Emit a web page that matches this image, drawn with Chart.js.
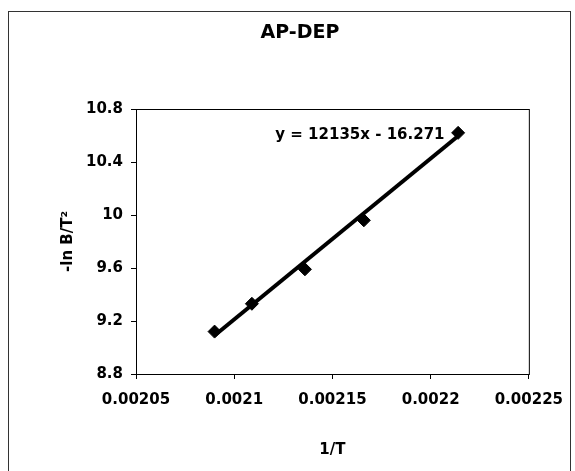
<!DOCTYPE html>
<html>
<head>
<meta charset="utf-8">
<script src="https://cdn.jsdelivr.net/npm/chart.js@4"></script>
<style>
  html, body { margin: 0; padding: 0; background: #fff; }
  #wrap { position: relative; width: 575px; height: 471px; }
  #frame { position: absolute; left: 8px; top: 11px; width: 563px; height: 470px;
           border: 1px solid #333; border-bottom: none; box-sizing: border-box; pointer-events: none; }
  canvas { position: absolute; left: 0; top: 0; }
</style>
</head>
<body>
<div id="wrap">
  <canvas id="scatterChart" width="575" height="471"></canvas>
  <div id="frame"></div>
</div>
<script>
// measured points (1/T, -ln B/T^2)
var invT = [0.00209, 0.002109, 0.002136, 0.002166, 0.002214];
var lnBT2 = [9.12, 9.33, 9.59, 9.96, 10.62];

// trendline as printed on the chart
var slope = 12135;
var intercept = -16.271;
var eqText = "y = 12135x - 16.271";
var eqAt = { x: 0.002164, y: 10.6 };

var chartTitle = "AP-DEP";
var xTicks = [0.00205, 0.0021, 0.00215, 0.0022, 0.00225];
var yTicks = [8.8, 9.2, 9.6, 10, 10.4, 10.8];

var pts = invT.map(function (x, i) { return { x: x, y: lnBT2[i] }; });
var xFirst = invT[0], xLast = invT[invT.length - 1];
var trend = [
  { x: xFirst, y: slope * xFirst + intercept },
  { x: xLast, y: slope * xLast + intercept }
];

var font = "'DejaVu Sans', Arial, sans-serif";

// plot box, title (sits left of the plot centre in the original) and equation label
var extras = {
  id: 'extras',
  afterDatasetsDraw: function (chart) {
    var ctx = chart.ctx, a = chart.chartArea;
    ctx.save();
    ctx.strokeStyle = '#000';
    ctx.lineWidth = 1;
    ctx.strokeRect(a.left + 0.5, a.top + 0.5, a.right - a.left, a.bottom - a.top);
    ctx.fillStyle = '#000';
    ctx.textAlign = 'center';
    ctx.textBaseline = 'middle';
    ctx.font = "bold 15px " + font;
    ctx.fillText(eqText, chart.scales.x.getPixelForValue(eqAt.x), chart.scales.y.getPixelForValue(eqAt.y));
    ctx.font = "bold 19px " + font;
    ctx.fillText(chartTitle, 300, 33);
    ctx.restore();
  }
};

var ctxS = document.getElementById("scatterChart").getContext('2d');
var myChart = new Chart(ctxS, {
  type: 'scatter',
  data: {
    datasets: [{
        label: "trend",
        data: trend,
        showLine: true,
        borderColor: '#000',
        borderWidth: 4,
        pointRadius: 0
      },
      {
        label: chartTitle,
        data: pts,
        pointStyle: 'rectRot',
        pointRadius: 6.5,
        backgroundColor: '#000',
        borderColor: '#000',
        borderWidth: 1
      }
    ]
  },
  plugins: [extras],
  options: {
    responsive: false,
    animation: false,
    layout: { padding: { left: 0, right: 42, top: 109, bottom: 0 } },
    plugins: {
      legend: { display: false },
      tooltip: { enabled: false },
      title: { display: false }
    },
    scales: {
      x: {
        type: 'linear',
        min: xTicks[0],
        max: xTicks[xTicks.length - 1],
        afterBuildTicks: function (s) { s.ticks = xTicks.map(function (v) { return { value: v }; }); },
        afterFit: function (s) { s.height = 97; },
        grid: { display: true, drawOnChartArea: false, tickLength: 5, color: '#000' },
        border: { color: '#000', width: 1 },
        ticks: {
          color: '#000', padding: 12, maxRotation: 0, autoSkip: false,
          font: { family: font, size: 15, weight: 'bold' },
          callback: function (v) { return String(+v.toFixed(5)); }
        },
        title: {
          display: true, text: '1/T', color: '#000',
          font: { family: font, size: 15, weight: 'bold' },
          padding: { top: 0, bottom: 12 }
        }
      },
      y: {
        type: 'linear',
        min: yTicks[0],
        max: yTicks[yTicks.length - 1],
        afterBuildTicks: function (s) { s.ticks = yTicks.map(function (v) { return { value: v }; }); },
        afterFit: function (s) { s.width = 136; },
        grid: { display: true, drawOnChartArea: false, tickLength: 5, color: '#000' },
        border: { color: '#000', width: 1 },
        ticks: {
          color: '#000', padding: 8,
          font: { family: font, size: 15, weight: 'bold' },
          callback: function (v) { return String(+v.toFixed(1)); }
        },
        title: {
          display: true, text: '-ln B/T\u00B2', color: '#000',
          font: { family: font, size: 15, weight: 'bold' },
          padding: { top: 59, bottom: 0 }
        }
      }
    }
  }
});
</script>
</body>
</html>
